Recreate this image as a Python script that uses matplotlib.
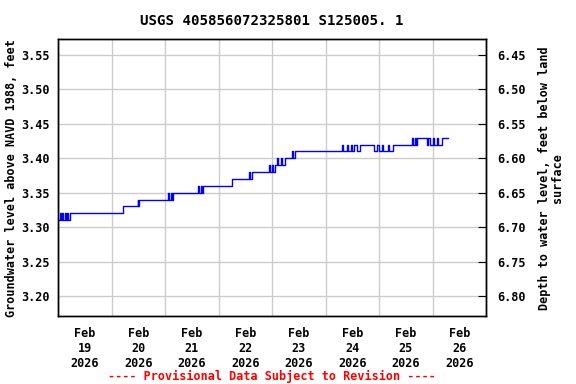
import numpy as np
import pandas as pd
import matplotlib
matplotlib.use("Agg")
import matplotlib.pyplot as plt
import matplotlib.dates as mdates
from matplotlib.ticker import FixedLocator, NullFormatter

plt.rcParams['font.family'] = ['DejaVu Sans Mono']
plt.rcParams['font.weight'] = 'bold'
plt.rcParams['font.size'] = 8.5

# hours after 2026-02-19 00:00, water level (ft above NAVD 1988)
hours = [0, 0.9, 1.3, 1.8, 2.2, 3.1, 3.5, 4.0, 4.5, 5.4,
         29.2, 35.8, 36.1, 36.4,
         49.3, 49.9, 50.6, 51.1, 51.6,
         62.8, 63.3, 64.0, 64.5, 65.0,
         78.0, 85.7, 86.2, 87.0,
         94.7, 95.2, 95.8, 96.4, 97.4, 98.3, 98.8, 100.0, 100.5, 101.9,
         105.0, 105.5, 106.4,
         127.4, 128.0, 129.5, 130.0, 131.5, 132.0, 133.0, 134.0, 135.5,
         141.8, 143.0, 144.0, 145.5, 146.0, 148.0, 148.6, 150.3,
         158.8, 159.3, 160.0, 160.4, 161.0,
         165.5, 166.2, 167.0, 168.0, 168.6, 170.0, 170.5, 172.2, 174.9]
level = [3.31, 3.32, 3.31, 3.32, 3.31, 3.32, 3.31, 3.32, 3.31, 3.32,
         3.33, 3.34, 3.33, 3.34,
         3.35, 3.34, 3.35, 3.34, 3.35,
         3.36, 3.35, 3.36, 3.35, 3.36,
         3.37, 3.38, 3.37, 3.38,
         3.39, 3.38, 3.39, 3.38, 3.39, 3.40, 3.39, 3.40, 3.39, 3.40,
         3.41, 3.40, 3.41,
         3.42, 3.41, 3.42, 3.41, 3.42, 3.41, 3.42, 3.41, 3.42,
         3.41, 3.42, 3.41, 3.42, 3.41, 3.42, 3.41, 3.42,
         3.43, 3.42, 3.43, 3.42, 3.43,
         3.42, 3.43, 3.42, 3.43, 3.42, 3.43, 3.42, 3.43, 3.43]

land_offset = 10.0  # depth = 10.0 - level
start = pd.Timestamp('2026-02-19')
end = pd.Timestamp('2026-02-27')
times = start + pd.to_timedelta(hours, unit='h')

left_ticks = [3.20, 3.25, 3.30, 3.35, 3.40, 3.45, 3.50, 3.55]
right_ticks = [6.45, 6.50, 6.55, 6.60, 6.65, 6.70, 6.75, 6.80]
ylo, yhi = 3.171, 3.5732

fig = plt.figure(figsize=(5.76, 3.84), dpi=100)
ax = fig.add_axes([58/576, 68/384, 428/576, 277/384])

ax.step(times, level, where='post', color='#0000ff', linewidth=1.0)

ax.set_xlim(start, end)
ax.set_ylim(ylo, yhi)

days = pd.date_range(start, end, freq='D')
noons = days[:-1] + pd.Timedelta(hours=12)
ax.xaxis.set_major_locator(FixedLocator(mdates.date2num(days)))
ax.xaxis.set_major_formatter(NullFormatter())
ax.xaxis.set_minor_locator(FixedLocator(mdates.date2num(noons)))
ax.set_xticklabels([d.strftime('%b\n%d\n%Y') for d in noons], minor=True,
                   fontweight='bold')
ax.tick_params(axis='x', which='major', length=0)
ax.tick_params(axis='x', which='minor', length=0, pad=8)

ax.set_yticks(left_ticks)
ax.set_yticklabels(['%.2f' % v for v in left_ticks], fontweight='bold')
ax.tick_params(axis='y', length=0, pad=6)
ax.grid(True, which='major', color='#cccccc', linewidth=1.0)
ax.set_axisbelow(True)

ax2 = ax.twinx()
ax2.set_ylim(land_offset - ylo, land_offset - yhi)
ax2.set_yticks(right_ticks)
ax2.set_yticklabels(['%.2f' % v for v in right_ticks], fontweight='bold')
ax2.tick_params(axis='y', direction='in', length=6, pad=8)

# axis labels placed directly
fig.text(12/576, 1 - 178/384, 'Groundwater level above NAVD 1988, feet',
         rotation=90, ha='center', va='center', fontweight='bold')
fig.text(551/576, 1 - 178/384, 'Depth to water level, feet below land\nsurface',
         rotation=90, ha='center', va='center', multialignment='center',
         fontweight='bold', linespacing=1.0)

for a in (ax, ax2):
    for s in a.spines.values():
        s.set_linewidth(1.0)
        s.set_color('black')

ax.set_title('USGS 405856072325801 S125005. 1', pad=10, fontweight='bold')
fig.text(272/576, 1 - 376/384, '---- Provisional Data Subject to Revision ----',
         color='red', ha='center', va='center', fontweight='bold')

fig.savefig('out.png', dpi=100)
